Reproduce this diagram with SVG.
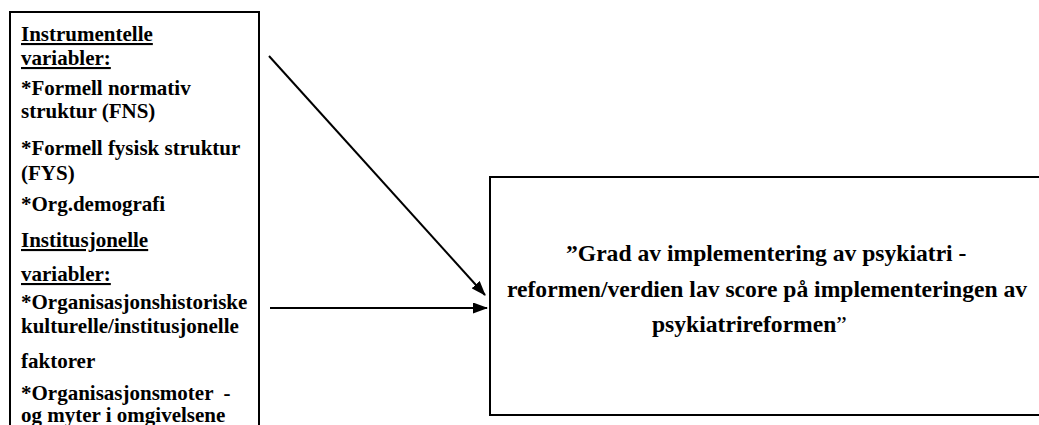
<svg xmlns="http://www.w3.org/2000/svg" width="1039" height="425" viewBox="0 0 1039 425">
<style>
.box{fill:#fff;stroke:#000;stroke-width:2}
.t{font-weight:bold;font-size:21px;fill:#000}
.u{text-decoration:underline}
.r{font-weight:bold;font-size:23.6px;fill:#000}
.c{stroke:#000;stroke-width:2;fill:none}
</style>
<defs>
<marker id="ah" markerWidth="15" markerHeight="11" refX="14" refY="5.5" orient="auto" markerUnits="userSpaceOnUse">
<path d="M0,0 L15,5.5 L0,11 Z" fill="#000"/>
</marker>
</defs>
<rect width="1039" height="425" fill="#fff"/>
<g id="node-left" font-family="Liberation Serif, serif">
<rect class="box" x="10" y="12" width="249" height="430"/>
<text class="t u" x="21" y="41">Instrumentelle</text>
<text class="t u" x="21" y="65">variabler:</text>
<text class="t" x="21" y="95">*Formell normativ</text>
<text class="t" x="21" y="118">struktur (FNS)</text>
<text class="t" x="21" y="155">*Formell fysisk struktur</text>
<text class="t" x="21" y="180">(FYS)</text>
<text class="t" x="21" y="211">*Org.demografi</text>
<text class="t u" x="21" y="247">Institusjonelle</text>
<text class="t u" x="21" y="281">variabler:</text>
<text class="t" x="21" y="309">*Organisasjonshistoriske</text>
<text class="t" x="21" y="333">kulturelle/institusjonelle</text>
<text class="t" x="21" y="368">faktorer</text>
<text class="t" x="21" y="400" xml:space="preserve">*Organisasjonsmoter  -</text>
<text class="t" x="21" y="422">og myter i omgivelsene</text>
</g>
<g id="node-right" font-family="Liberation Serif, serif">
<rect class="box" x="490" y="177" width="600" height="238"/>
<text class="r" x="566" y="261">”Grad av implementering av psykiatri -</text>
<text class="r" x="507" y="297">reformen/verdien lav score på implementeringen av</text>
<text class="r" x="652" y="332">psykiatrireformen<tspan font-weight="normal">”</tspan></text>
</g>
<g id="connectors">
<line class="c" x1="269" y1="56" x2="485" y2="295" marker-end="url(#ah)"/>
<line class="c" x1="270" y1="308" x2="487" y2="308" marker-end="url(#ah)"/>
</g>
</svg>
